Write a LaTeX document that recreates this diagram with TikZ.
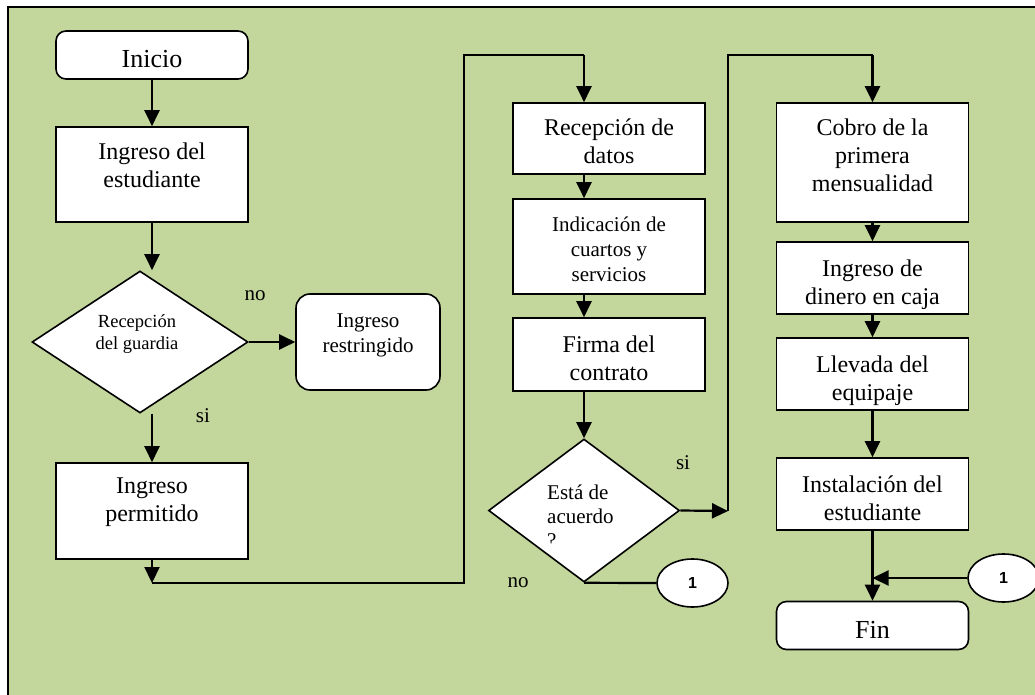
\documentclass[tikz,border=0pt]{standalone}
\usepackage{fontspec}
\setmainfont{Liberation Serif}
\setsansfont{Liberation Sans}
\usepackage{xcolor}
\definecolor{sheetgreen}{RGB}{195,214,155}
\usepackage{tikz}
\usetikzlibrary{
  shapes.geometric,
  arrows.meta,
  positioning,
  calc
}
% text that starts at the top of a fixed-size box
\newcommand{\toptext}[4]{\parbox[c][#2][t]{#1}{\centering\vspace*{#3}#4\par}}

\begin{document}
\begin{tikzpicture}[x=1pt, y=-1pt,
  box/.style={rectangle, draw, line width=1.6pt, fill=white, inner sep=0pt, minimum width=192pt, font=\fontsize{24}{28}\selectfont},
  ends/.style={box, rounded corners=10pt, minimum height=48pt, text height=25pt, text depth=0pt, font=\fontsize{26}{30}\selectfont},
  decision/.style={diamond, draw, line width=1.6pt, fill=white, inner sep=0pt},
  dtext/.style={inner sep=0pt, align=center, font=\fontsize{18.5}{22}\selectfont},
  tag/.style={inner sep=0pt, font=\fontsize{21}{24}\selectfont},
  link/.style={ellipse, draw, line width=1.6pt, fill=white, minimum width=71pt, minimum height=48pt, inner sep=0pt, font=\sffamily\bfseries\fontsize{16}{18}\selectfont},
  flow/.style={line width=2.2pt, -{Triangle[length=16pt,width=15pt]}},
  plain/.style={line width=2.2pt}
]
  \useasboundingbox (0,0) rectangle (1035,695);
  \clip (0,0) rectangle (1035,695);
  \fill[white] (0,0) rectangle (1035,695);
  \draw[line width=2.4pt, fill=sheetgreen] (8,7) rectangle (1060,720);

  % first column
  \node[ends] (inicio) at (152,55) {Inicio};
  \node[box] (ingreso) at (152,174.5) {\toptext{188pt}{95pt}{15.5pt}{Ingreso del\\estudiante}};
  \node[decision, minimum width=216pt, minimum height=142pt] (guardia) at (140,342) {};
  \node[dtext] (guardia-t) at (137,334) {Recepción\\del guardia};
  \node[box, minimum width=144pt, rounded corners=14pt, font=\fontsize{21}{25}\selectfont] (restringido) at (368,342) {\toptext{140pt}{96pt}{20pt}{Ingreso\\restringido}};
  \node[box] (permitido) at (152,511) {\toptext{188pt}{96pt}{15pt}{Ingreso\\permitido}};
  \node[tag] (no-a) at (255,296) {no};
  \node[tag] (si-a) at (203,416) {si};

  % second column
  \coordinate (axis2) at (584,0);
  \node[box] (datos) at (609,138.5) {\toptext{188pt}{71pt}{15.5pt}{Recepción de\\datos}};
  \node[box, font=\fontsize{21}{25}\selectfont] (indicacion) at (609,246.5) {\toptext{188pt}{95pt}{17.5pt}{Indicación de\\cuartos y\\servicios}};
  \node[box] (firma) at (609,354.5) {\toptext{188pt}{73pt}{17.5pt}{Firma del\\contrato}};
  \node[decision, minimum width=191pt, minimum height=143pt] (acuerdo) at (584,510.5) {};
  \begin{scope}
    \clip (489,470) rectangle (680,543);
    \node[tag, align=left, anchor=north west] (acuerdo-t) at (547,485) {Está de\\acuerdo\\?};
  \end{scope}
  \node[link] (salto-a) at (692.5,583) {1};
  \node[tag] (si-b) at (683,463) {si};
  \node[tag] (no-b) at (518,583) {no};

  % third column
  \node[box] (cobro) at (872.5,162.5) {\toptext{188pt}{119pt}{16pt}{Cobro de la\\primera\\mensualidad}};
  \node[box] (caja) at (872.5,278) {\toptext{188pt}{72pt}{18pt}{Ingreso de\\dinero en caja}};
  \node[box] (equipaje) at (872.5,374) {\toptext{188pt}{72pt}{18pt}{Llevada del\\equipaje}};
  \node[box] (instalacion) at (872.5,494) {\toptext{188pt}{72pt}{18pt}{Instalación del\\estudiante}};
  \node[ends] (fin) at (872.5,625.5) {Fin};
  \node[link] (salto-b) at (1003.5,578) {1};

  % connectors
  \coordinate (upper) at (0,55);
  \coordinate (turn1) at (152,583);
  \coordinate (rise1) at (464,583);
  \coordinate (turn2) at (728,511);
  \draw[flow] (inicio) -- (ingreso);
  \draw[flow] (ingreso.south) -- (ingreso.south |- guardia.north);
  \draw[flow] (guardia.east) -- (restringido.west);
  \draw[flow] (ingreso.south |- guardia.south) -- (permitido.north);
  \draw[flow] (permitido.south) -- (turn1);
  \draw[plain] (turn1) -- (rise1) |- (axis2 |- upper);
  \draw[flow] (axis2 |- upper) -- (datos.north -| axis2);
  \draw[flow] (datos.south -| axis2) -- (indicacion.north -| axis2);
  \draw[flow] (indicacion.south -| axis2) -- (firma.north -| axis2);
  \draw[flow] (firma.south -| axis2) -- (acuerdo.north);
  \draw[flow] (acuerdo.east) -- (turn2);
  \draw[plain] (turn2) |- (cobro.north |- upper);
  \draw[flow] (cobro.north |- upper) -- (cobro.north);
  \draw[plain] (acuerdo.south) -- (salto-a.west);
  \draw[flow] (cobro) -- (caja);
  \draw[flow] (caja) -- (equipaje);
  \draw[flow] (equipaje) -- (instalacion);
  \draw[flow] (instalacion) -- (fin);
  \draw[flow] (salto-b.west) -- (salto-b.west -| fin.north);
\end{tikzpicture}
\end{document}
